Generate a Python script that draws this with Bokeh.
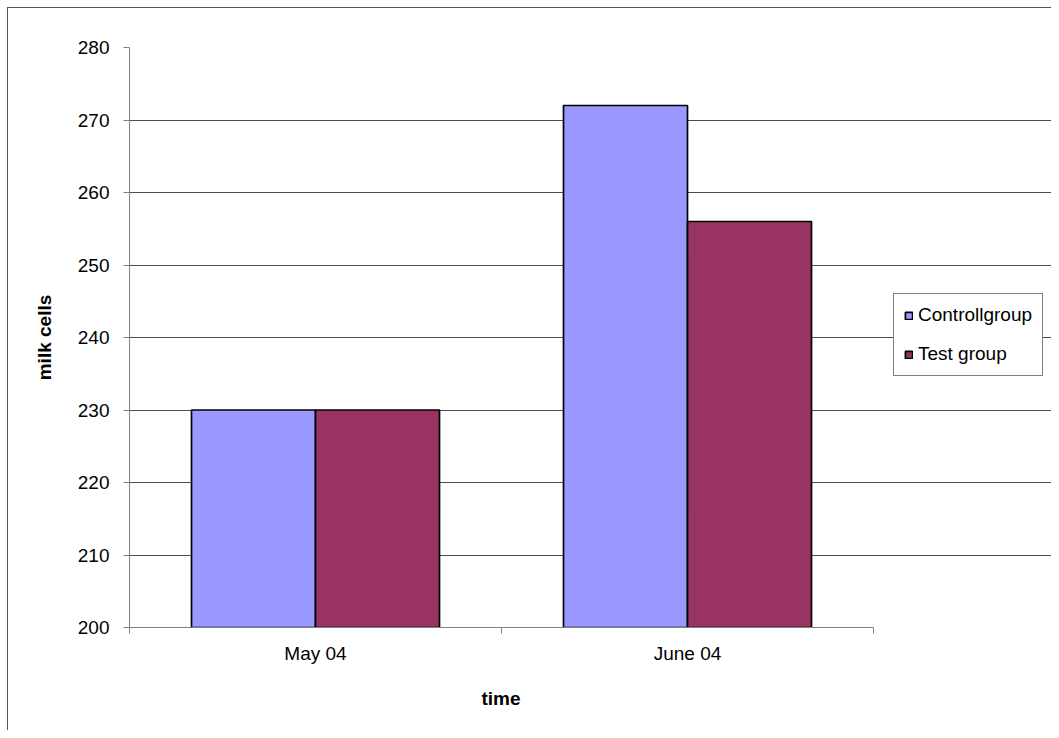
from bokeh.plotting import figure
from bokeh.models import (ColumnDataSource, FixedTicker, Range1d, Legend, LegendItem, Title)
from bokeh.embed import file_html
from bokeh.resources import INLINE

# ---- data ----
categories = ["May 04", "June 04"]
series_names = ["Controllgroup", "Test group"]
controll_values = [230, 272]
test_values = [230, 256]
y_ticks = [200, 210, 220, 230, 240, 250, 260, 270, 280]
series_colors = ["#9999FF", "#993366"]
x_title = "time"
y_title = "milk cells"

FONT = "Liberation Sans"
FS = "19px"

# ---- layout (pixels) ----
W, H = 1051, 730
PLOT_LEFT, PLOT_RIGHT, PLOT_TOP, PLOT_BOTTOM = 129, 873, 47, 627
frame_w = W - PLOT_LEFT          # frame runs to the right edge so the legend fits inside it
plot_w = PLOT_RIGHT - PLOT_LEFT  # width actually used by the categories

n = len(categories)
bar_w = 1.0 / 3.0
centers = [i + 0.5 for i in range(n)]
x_end = n * frame_w / plot_w

src_c = ColumnDataSource(dict(x=[c - bar_w / 2 for c in centers], top=controll_values))
src_t = ColumnDataSource(dict(x=[c + bar_w / 2 for c in centers], top=test_values))

p = figure(width=W, height=H, output_backend="svg", toolbar_location=None,
           x_range=Range1d(0, x_end), y_range=Range1d(y_ticks[0], y_ticks[-1]),
           min_border_left=PLOT_LEFT, min_border_top=PLOT_TOP, min_border_right=0,
           min_border_bottom=H - PLOT_BOTTOM)
# outer chart-area border (left and top edges visible in the reference)
p.styles = {
    "background": ("linear-gradient(#555555,#555555) 7px 7px / 1px 100% no-repeat, "
                   "linear-gradient(#555555,#555555) 7px 7px / 100% 1px no-repeat, white"),
}
p.outline_line_color = None
p.background_fill_color = "white"
p.border_fill_color = None

r1 = p.vbar(x="x", top="top", bottom=y_ticks[0], width=bar_w, source=src_c,
            fill_color=series_colors[0], line_color="black", line_width=1.7)
r2 = p.vbar(x="x", top="top", bottom=y_ticks[0], width=bar_w, source=src_t,
            fill_color=series_colors[1], line_color="black", line_width=1.7)

# y axis
p.yaxis.ticker = FixedTicker(ticks=y_ticks)
p.yaxis.axis_label = y_title
p.yaxis.axis_label_text_font = FONT
p.yaxis.axis_label_text_font_style = "bold"
p.yaxis.axis_label_text_font_size = FS
p.yaxis.axis_label_text_color = "black"
p.yaxis.axis_label_standoff = 20
p.yaxis.major_label_text_font = FONT
p.yaxis.major_label_text_font_size = FS
p.yaxis.major_label_text_color = "black"
p.yaxis.major_label_standoff = 14
p.yaxis.major_tick_in = 0
p.yaxis.major_tick_out = 6
p.yaxis.minor_tick_out = 0
p.yaxis.minor_tick_in = 0
p.yaxis.axis_line_color = "#808080"
p.yaxis.major_tick_line_color = "#808080"

# x axis: labels at category centres, tick marks between categories
p.xaxis.ticker = FixedTicker(ticks=centers, minor_ticks=list(range(n + 1)))
p.xaxis.major_label_overrides = {c: lab for c, lab in zip(centers, categories)}
p.xaxis.bounds = (0, n)
p.xaxis.major_label_text_font = FONT
p.xaxis.major_label_text_font_size = FS
p.xaxis.major_label_text_color = "black"
p.xaxis.major_label_standoff = 9
p.xaxis.major_tick_in = 0
p.xaxis.major_tick_out = 0
p.xaxis.minor_tick_in = 0
p.xaxis.minor_tick_out = 6
p.xaxis.axis_line_color = "#808080"
p.xaxis.minor_tick_line_color = "#808080"

# x axis title, centred under the category area (not the whole frame)
xt = Title(text=x_title, align="left", offset=plot_w / 2 - 20,
           text_font=FONT, text_font_size=FS, text_font_style="bold",
           text_color="black", standoff=38)
p.add_layout(xt, "below")

p.xgrid.grid_line_color = None
p.ygrid.grid_line_color = "#4d4d4d"
p.ygrid.ticker = FixedTicker(ticks=y_ticks[1:])
p.ygrid.bounds = (0, n)

legend = Legend(items=[LegendItem(label=series_names[0], renderers=[r1]),
                       LegendItem(label=series_names[1], renderers=[r2])],
                location=(893 - PLOT_LEFT, PLOT_BOTTOM - 376), orientation="vertical",
                border_line_color="black", border_line_width=1,
                background_fill_color="white", background_fill_alpha=1,
                label_text_font=FONT, label_text_font_size=FS,
                label_text_color="black", label_height=16,
                glyph_width=9, glyph_height=9, label_standoff=5,
                spacing=17, padding=10, margin=0)
p.add_layout(legend, "center")

open("out.html", "w").write(file_html(p, INLINE))
